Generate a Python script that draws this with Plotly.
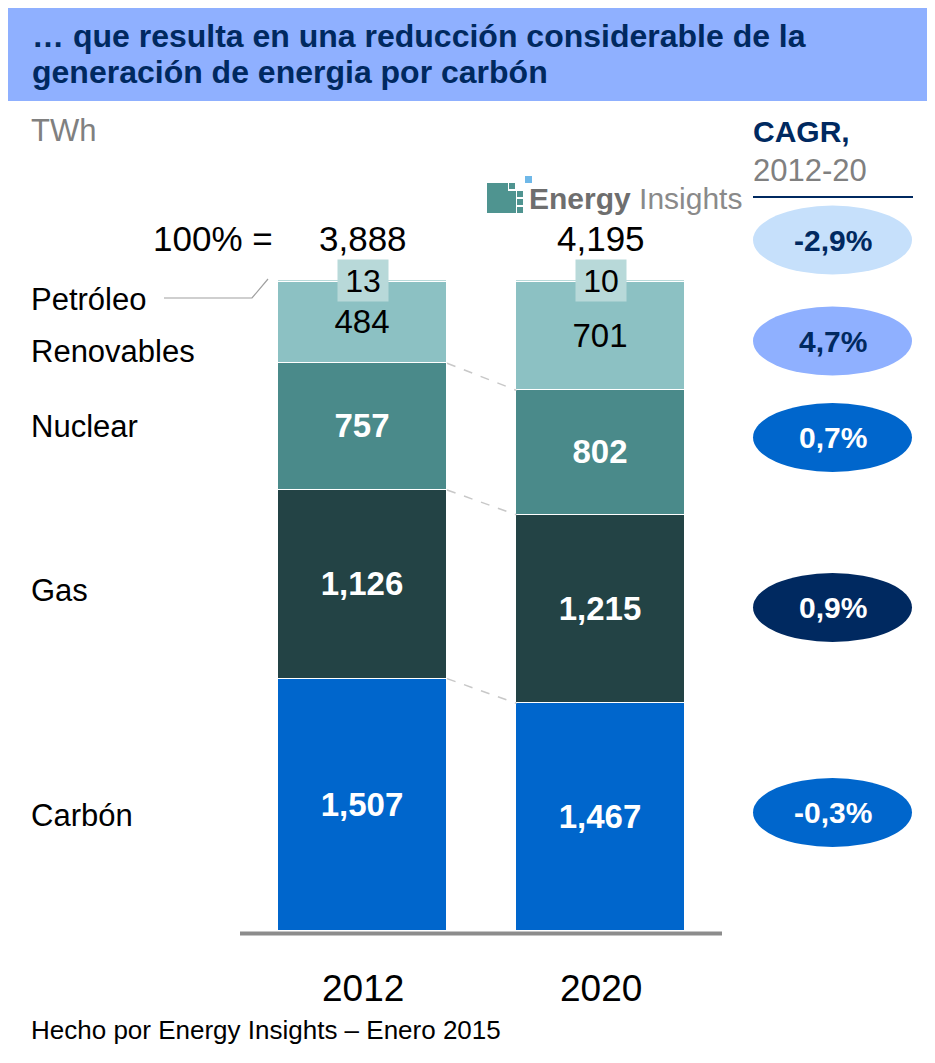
import plotly.graph_objects as go

# ---------------- data ----------------
years = ["2012", "2020"]
sources = ["Carbón", "Gas", "Nuclear", "Renovables", "Petróleo"]
carbon = [1507, 1467]
gas = [1126, 1215]
nuclear = [757, 802]
renovables = [484, 701]
petroleo = [13, 10]
reported_totals = [3888, 4195]
cagr_labels = ["-2,9%", "4,7%", "0,7%", "0,9%", "-0,3%"]  # Petróleo, Renovables, Nuclear, Gas, Carbón

series = [carbon, gas, nuclear, renovables, petroleo]
sums = [sum(s[i] for s in series) for i in range(len(years))]

colors = ["#0066CC", "#234345", "#4A8A8A", "#8CC1C3", "#B8D9D9"]
FONT = "Liberation Sans, Arial, sans-serif"
NAVY = "#002960"

# page has an 8px body margin: figure is offset by (8, 8)
OFF = 8
W, H = 935 - OFF, 1063 - OFF
def px(x):
    return (x - OFF) / W
def py(y):
    return 1 - (y - OFF) / H

xpos = [0, 1]
BW = 0.709

fig = go.Figure()
for k, (name, vals) in enumerate(zip(sources, series)):
    pct = [v / t * 100 for v, t in zip(vals, sums)]
    if name == "Petróleo":
        text = ["" for _ in vals]
        tfont = dict(size=28, color="black", family=FONT)
    elif name == "Renovables":
        text = [f"{v:,}" for v in vals]
        tfont = dict(size=33, color="black", family=FONT)
    else:
        text = [f"<b>{v:,}</b>" for v in vals]
        tfont = dict(size=33, color="white", family=FONT)
    fig.add_trace(go.Bar(
        x=xpos, y=pct, width=BW, name=name,
        marker=dict(color=colors[k], line=dict(color="white", width=1.5)),
        text=text, textposition="inside", insidetextanchor="middle",
        textangle=0, textfont=tfont, constraintext="none",
        hoverinfo="skip", showlegend=False,
    ))

shapes = []
annotations = []

# title band & frame
shapes.append(dict(type="rect", xref="paper", yref="paper",
                   x0=px(5), x1=px(931), y0=py(101), y1=py(3),
                   fillcolor="#8FB0FF", line=dict(width=0), layer="below"))
for xx in (6, 931):
    shapes.append(dict(type="line", xref="paper", yref="paper",
                       x0=px(xx), x1=px(xx), y0=py(100), y1=py(1063),
                       line=dict(color="#A8C0FF", width=2)))

annotations.append(dict(text="<b>… que resulta en una reducción considerable de la</b>",
                        xref="paper", yref="paper", x=px(30), y=py(36),
                        xanchor="left", yanchor="middle", showarrow=False,
                        font=dict(size=32, color=NAVY, family=FONT)))
annotations.append(dict(text="<b>generación de energia por carbón</b>",
                        xref="paper", yref="paper", x=px(30), y=py(72),
                        xanchor="left", yanchor="middle", showarrow=False,
                        font=dict(size=32, color=NAVY, family=FONT)))

# unit
annotations.append(dict(text="TWh", xref="paper", yref="paper", x=px(29), y=py(131),
                        xanchor="left", yanchor="middle", showarrow=False,
                        font=dict(size=31, color="#808080", family=FONT)))

# axis baseline
shapes.append(dict(type="line", xref="paper", yref="paper",
                   x0=px(240), x1=px(722), y0=py(933.5), y1=py(933.5),
                   line=dict(color="#8C8C8C", width=4)))

# year labels
for xi, yr in zip(xpos, years):
    annotations.append(dict(text=yr, xref="x", yref="paper", x=xi, y=py(988),
                            xanchor="center", yanchor="middle", showarrow=False,
                            font=dict(size=37, color="black", family=FONT)))

# totals
annotations.append(dict(text="100% =", xref="paper", yref="paper", x=px(213), y=py(238),
                        xanchor="center", yanchor="middle", showarrow=False,
                        font=dict(size=35, color="black", family=FONT)))
for xi, t in zip(xpos, reported_totals):
    annotations.append(dict(text=f"{t:,}", xref="x", yref="paper", x=xi, y=py(238),
                            xanchor="center", yanchor="middle", showarrow=False,
                            font=dict(size=35, color="black", family=FONT)))

# Petróleo value boxes
for xi, v in zip(xpos, petroleo):
    annotations.append(dict(text=f"{v:,}", xref="x", yref="y", x=xi, y=100,
                            xanchor="center", yanchor="middle", showarrow=False,
                            bgcolor="#B8D9D9", width=48, height=39, borderpad=1,
                            font=dict(size=32, color="black", family=FONT)))

# connectors between bars
cum = []
for i in range(len(years)):
    acc, c = 0, []
    for s in series:
        acc += s[i] / sums[i] * 100
        c.append(acc)
    cum.append(c)
for k in range(3):
    shapes.append(dict(type="line", xref="x", yref="y",
                       x0=xpos[0] + BW / 2, x1=xpos[1] - BW / 2,
                       y0=cum[0][k], y1=cum[1][k],
                       line=dict(color="#C8C8C8", width=1.5, dash="dash")))
shapes.append(dict(type="line", xref="x", yref="y",
                   x0=xpos[0] + BW / 2, x1=xpos[1] - BW / 2,
                   y0=100.3, y1=100.3,
                   line=dict(color="#D4D4D4", width=3, dash="dot")))

# category labels on the left
label_y = {"Petróleo": 300, "Renovables": 351, "Nuclear": 426, "Gas": 590, "Carbón": 815}
for name in sources:
    annotations.append(dict(text=name, xref="paper", yref="paper", x=px(29), y=py(label_y[name]),
                            xanchor="left", yanchor="middle", showarrow=False,
                            font=dict(size=31, color="black", family=FONT)))
# Petróleo leader line
shapes.append(dict(type="path", xref="paper", yref="paper",
                   path=f"M {px(164)},{py(298)} L {px(252)},{py(298)} L {px(268)},{py(279)}",
                   line=dict(color="#A0A0A0", width=1.2)))

# CAGR header
annotations.append(dict(text="<b>CAGR,</b>", xref="paper", yref="paper", x=px(751), y=py(132),
                        xanchor="left", yanchor="middle", showarrow=False,
                        font=dict(size=30, color=NAVY, family=FONT)))
annotations.append(dict(text="2012-20", xref="paper", yref="paper", x=px(751), y=py(170),
                        xanchor="left", yanchor="middle", showarrow=False,
                        font=dict(size=31, color="#808080", family=FONT)))
shapes.append(dict(type="line", xref="paper", yref="paper",
                   x0=px(753), x1=px(913), y0=py(197), y1=py(197),
                   line=dict(color=NAVY, width=2)))

# CAGR bubbles
bubble_y = [240, 341, 437.5, 607.5, 812.5]
bubble_fill = ["#C6E0FB", "#8FB0FF", "#0066CC", "#002960", "#0066CC"]
bubble_txt = [NAVY, NAVY, "white", "white", "white"]
for lab, yc, fc, tc in zip(cagr_labels, bubble_y, bubble_fill, bubble_txt):
    shapes.append(dict(type="circle", xref="paper", yref="paper",
                       x0=px(753), x1=px(912), y0=py(yc + 34.5), y1=py(yc - 34.5),
                       fillcolor=fc, line=dict(width=0)))
    annotations.append(dict(text=f"<b>{lab}</b>", xref="paper", yref="paper",
                            x=px(832.5), y=py(yc), xanchor="center", yanchor="middle",
                            showarrow=False, font=dict(size=30, color=tc, family=FONT)))

# logo
TEAL = "#4F9490"
for (x0, y0, x1, y1) in [(487, 183, 508, 213), (508, 191, 516, 213), (517, 199, 523, 205),
                         (517, 207, 523, 213), (509, 183, 515, 189), (517, 191, 523, 197)]:
    shapes.append(dict(type="rect", xref="paper", yref="paper",
                       x0=px(x0), x1=px(x1), y0=py(y1), y1=py(y0),
                       fillcolor=TEAL, line=dict(width=0)))
shapes.append(dict(type="rect", xref="paper", yref="paper",
                   x0=px(525), x1=px(532), y0=py(183), y1=py(176),
                   fillcolor="#6FB8E8", line=dict(width=0)))
annotations.append(dict(text="<b><span style='color:#6E6E6E'>Energy</span></b><span style='color:#8A8A8A'> Insights</span>",
                        xref="paper", yref="paper", x=px(527), y=py(199),
                        xanchor="left", yanchor="middle", showarrow=False,
                        font=dict(size=30, color="#7A7A7A", family=FONT)))

# footer
annotations.append(dict(text="Hecho por Energy Insights – Enero 2015", xref="paper", yref="paper",
                        x=px(29), y=py(1030), xanchor="left", yanchor="middle", showarrow=False,
                        font=dict(size=26, color="black", family=FONT)))

fig.update_layout(
    width=W, height=H, margin=dict(l=0, r=0, t=0, b=0),
    paper_bgcolor="white", plot_bgcolor="white",
    barmode="stack", bargap=0,
    xaxis=dict(domain=[px(243.25), px(720.25)], range=[-0.5, 1.5], visible=False,
               fixedrange=True),
    yaxis=dict(domain=[py(931), py(280)], range=[0, 100], visible=False, fixedrange=True),
    shapes=shapes, annotations=annotations,
    uniformtext=dict(mode=False),
)

fig.write_html("out.html")
